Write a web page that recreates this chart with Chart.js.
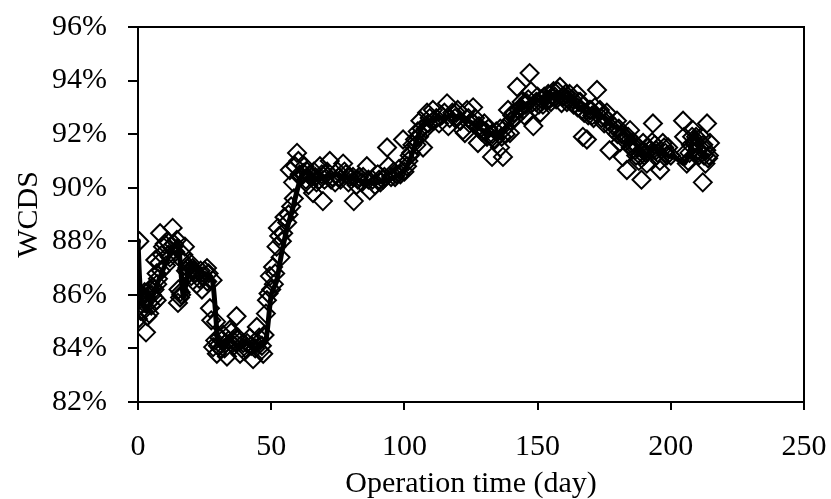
<!DOCTYPE html>
<html>
<head>
<meta charset="utf-8">
<script src="https://cdn.jsdelivr.net/npm/chart.js@4"></script>
<style>
  html, body { margin: 0; padding: 0; background: #fff; }
  #wrap { width: 831px; height: 499px; }
</style>
</head>
<body>
<div id="wrap"><canvas id="c" width="831" height="499"></canvas></div>
<script>
// Measured daily WCDS values (%) - outlying / clearly visible diamonds
const obsDays = [
  0,0,0.5,1,1.5,2,2.5,3,3.5,4,
  4.5,5,5.5,6,6.5,7,7,7.5,8,8.3,
  9,9.4,10,11,12,13,14,14.6,15,15.8,
  16,16.5,17,17.6,18,19,19.5,20,21,22,
  23,24,25,25.9,26,27,27.5,28,28.2,29,
  29.6,30,31,32,33,33.4,34,34.5,35,36,
  37,37.5,38.3,39,40,41,42,43.2,44,44.6,
  45,46,47,48,48.4,49,49.5,50.7,51,52,
  52.5,53,54,55,56,57,58.2,59,59.7,60.2,
  61,62,63,64,65,65.7,66,67,68.3,69.4,
  70,71,72,73,74,75,76,77,78,79,
  80.7,81,82,83,84,85.9,87,88,89,90,
  91,92,93.5,94,95,96,97,98,99.5,101,
  102,103,104,105,106,107,108,108.5,109,110.7,
  112,113,114,116,116.5,118,119,120,121,122,
  122.7,123.5,124,125.8,126,127.6,128,129,130,131,
  132.9,133,134,135.9,136,137,138,138.9,139.6,140,
  141,142.3,143,144,145,146,147,147.5,148.4,149,
  150,151,152,153.5,154,155,156,157,158.4,159,
  160,161,162,163,164.8,165,166,167,168.5,169,
  170,171,172.3,173.4,174,175,176,177,178,179.8,
  180,181,182,183,183.5,184.7,185,186,187,188,
  189,189.6,190,191,192,193.3,194,195,195.9,196,
  197,198,199,200,204.6,205,206,207,208.3,209,
  210,211,211.5,212,212.5,213,213.6,214,214.7
];
const obsWCDS = [
  86.0,85.1,88.0,85.4,85.9,85.4,86.1,84.6,85.2,85.7,
  86.2,85.6,86.3,85.9,87.3,86.8,85.8,86.6,87.2,88.3,
  87.5,87.8,87.9,88.0,87.4,88.5,87.6,88.05,85.7,85.9,
  86.1,87.3,87.5,87.8,86.9,86.8,87.2,86.7,86.9,86.4,
  86.6,86.2,86.9,87.0,86.5,85.5,85.05,86.55,84.05,84.3,
  83.8,84.1,84.0,84.5,84.2,83.7,84.3,84.7,84.6,84.1,
  85.2,84.4,83.8,84.0,83.9,84.2,84.4,83.6,84.0,84.8,
  84.2,83.9,83.8,85.3,85.8,86.05,86.7,87.04,86.4,87.8,
  88.5,88.2,88.0,88.9,88.7,90.66,90.2,90.8,91.3,91.0,
  90.4,90.55,90.3,90.1,90.4,89.8,90.6,90.2,90.8,89.5,
  90.3,90.6,91.0,90.4,90.2,90.6,90.3,90.9,90.5,90.2,
  90.4,89.5,90.1,90.4,90.2,90.8,89.9,90.3,90.1,90.5,
  90.2,90.3,91.5,90.8,90.4,90.6,90.5,90.7,91.8,90.8,
  91.2,91.6,91.8,92.1,92.5,91.5,92.2,92.8,92.4,92.9,
  92.6,92.4,92.7,93.15,92.3,92.8,92.6,92.9,92.5,92.15,
  92.04,92.9,92.6,93.0,92.4,91.67,92.3,92.1,92.4,91.9,
  91.15,92.0,91.8,91.5,92.2,91.15,92.0,92.9,92.04,92.5,
  92.8,93.76,92.9,93.2,92.7,93.16,94.28,93.6,92.3,93.0,
  93.4,92.8,93.1,93.27,93.5,93.2,93.6,93.3,93.76,93.16,
  93.4,93.2,93.5,93.3,93.5,93.0,93.2,91.9,91.8,92.7,
  92.9,92.6,93.65,92.9,92.6,92.4,92.8,91.4,92.2,92.5,
  92.0,91.7,91.15,91.9,90.66,92.15,91.5,91.7,91.2,91.0,
  90.3,91.67,91.2,90.9,91.4,92.4,91.6,91.3,91.0,90.66,
  91.67,91.3,91.5,91.2,92.5,91.9,90.9,91.3,92.15,91.7,
  91.4,91.5,91.9,90.2,91.2,90.9,92.4,91.1,91.67
];

// Measured WCDS values (%) - diamonds packed along the trend band
const bandDays = [
  0.3,1.2,2.2,3.2,4.2,5.2,6.2,7.2,8.6,10.5,
  11.5,12.5,13.5,15.2,16.2,18.5,20.5,21.5,23.5,24.5,
  26.5,29.3,30.5,31.5,32.5,35.5,36.5,39.5,40.5,42.5,
  45.5,46.5,47.5,50,51.5,53.5,54.5,56.5,57.5,58.5,
  60.7,62.5,63.5,64.5,66.5,68,69,70.5,72.5,75.5,
  77.5,79.5,82.5,84.5,86.5,90.5,92.5,96.5,98.5,100,
  101.5,102.5,104.5,105.5,106.5,109.5,111,115,117,119.5,
  124.5,126.5,128.5,130.5,131.5,133.5,134.5,136.5,137.5,140.5,
  141.5,143.5,144.5,145.5,146.5,149.5,150.5,151.5,152.5,154.5,
  155.5,156.5,157.5,159.5,160.5,161.5,163.5,165.5,166.5,167.5,
  169.5,170.5,171.5,174.5,175.5,176.5,178.5,180.5,181.5,182.5,
  184,185.5,186.5,187.5,188.5,190.5,191.5,193,194.5,197.5,
  198.5,205.5,206.5,207.5,208,209.5,210.5,212.2,213.3,214.3
];
const bandWCDS = [
  85.8,86.0,85.7,85.9,85.3,86.0,86.2,86.4,86.9,87.1,
  87.5,87.8,87.9,86.2,86.0,87.0,87.0,86.8,86.9,86.7,
  86.8,85.0,84.4,84.3,84.0,84.3,84.4,84.2,84.0,84.1,
  84.4,84.1,84.5,86.2,86.8,87.4,88.3,89.0,89.3,89.6,
  90.5,90.8,90.6,90.5,90.4,90.3,90.5,90.5,90.3,90.4,
  90.6,90.4,90.3,90.4,90.3,90.3,90.4,90.4,90.5,90.6,
  91.0,91.3,91.6,91.9,92.2,92.6,92.5,92.8,92.6,92.8,
  92.4,92.6,92.2,92.1,92.2,91.8,92.1,91.9,92.2,92.7,
  92.6,93.0,92.9,93.1,93.3,93.2,93.1,93.3,93.4,93.3,
  93.4,93.4,93.6,93.4,93.5,93.3,93.1,93.2,92.9,92.8,
  92.9,92.7,93.0,92.7,92.6,92.5,92.3,92.2,92.0,91.8,
  91.9,91.6,91.4,91.5,91.2,91.3,91.5,91.7,91.4,91.5,
  91.2,91.3,91.0,91.6,91.9,91.9,91.2,91.6,91.4,91.2
];

// Smoothed trend line
const trendDays = [0,1,3,5,8,11,13,15,17,18,20,22,25,28,30,32,35,38,41,44,46,48,50,52,54,56,58,60,62,64,67,70,74,78,82,86,90,94,98,101,103,105,107,110,114,118,121,124,127,130,133,135,137,140,142,145,148,151,154,157,160,163,166,169,172,175,178,181,184,187,190,193,196,199,202,205,207,209,211,213,214];
const trendWCDS = [88.0,86.0,85.4,85.8,86.6,87.3,87.7,88.0,85.9,86.4,87.2,86.9,86.8,86.5,84.3,84.1,84.3,84.0,84.2,84.0,84.2,84.3,86.0,86.5,87.6,88.5,89.2,90.0,90.6,90.6,90.3,90.4,90.5,90.4,90.3,90.2,90.2,90.3,90.5,90.8,91.3,91.9,92.3,92.5,92.6,92.7,92.6,92.5,92.3,92.1,92.0,91.9,92.1,92.5,92.9,93.1,93.2,93.3,93.4,93.5,93.4,93.3,93.0,92.8,92.9,92.6,92.3,92.2,91.9,91.6,91.1,91.5,91.3,91.2,91.1,90.9,91.3,92.1,91.4,91.1,91.3];

const xTicks = [0, 50, 100, 150, 200, 250];
const yTicks = [82, 84, 86, 88, 90, 92, 94, 96];

const FONT = "'Liberation Serif', 'Times New Roman', serif";

const boxPlugin = {
  id: 'box',
  afterDraw(chart) {
    const a = chart.chartArea, ctx = chart.ctx;
    ctx.save();
    ctx.strokeStyle = '#000';
    ctx.lineWidth = 2;
    ctx.strokeRect(a.left, a.top, a.right - a.left, a.bottom - a.top);
    ctx.restore();
  }
};

const allDays = obsDays.concat(bandDays);
const allWCDS = obsWCDS.concat(bandWCDS);

new Chart(document.getElementById('c'), {
  type: 'scatter',
  data: {
    datasets: [
      {
        label: 'trend',
        data: trendDays.map((d, i) => ({ x: d, y: trendWCDS[i] })),
        showLine: true,
        borderColor: '#000',
        backgroundColor: '#000',
        borderWidth: 5,
        tension: 0.2,
        pointRadius: (c) => c.dataIndex === 0 ? 3 : 0,
        pointBorderWidth: 0,
        order: 0
      },
      {
        label: 'WCDS',
        data: allDays.map((d, i) => ({ x: d, y: allWCDS[i] })),
        pointStyle: 'rectRot',
        pointRadius: 9,
        pointBorderWidth: 2,
        borderColor: '#000',
        backgroundColor: 'rgba(0,0,0,0)',
        order: 1
      }
    ]
  },
  options: {
    responsive: false,
    animation: false,
    devicePixelRatio: 1,
    layout: { padding: { left: 0, top: 27, right: 27, bottom: 0 } },
    plugins: { legend: { display: false }, tooltip: { enabled: false } },
    scales: {
      x: {
        type: 'linear',
        min: 0, max: 250,
        afterBuildTicks: (s) => { s.ticks = xTicks.map(v => ({ value: v })); },
        afterFit: (s) => { s.height = 97; s.paddingLeft = 0; s.paddingRight = 0; },
        grid: { display: true, drawOnChartArea: false, drawTicks: true, tickLength: 8, color: '#000', lineWidth: 2 },
        border: { display: true, color: '#000', width: 2 },
        ticks: { color: '#000', font: { family: FONT, size: 30 }, padding: 19, maxRotation: 0 },
        title: { display: true, text: 'Operation time (day)', color: '#000', font: { family: FONT, size: 30, lineHeight: 1.0 }, padding: { top: 0, bottom: 0 } }
      },
      y: {
        type: 'linear',
        min: 82, max: 96,
        afterBuildTicks: (s) => { s.ticks = yTicks.map(v => ({ value: v })); },
        afterFit: (s) => { s.width = 138; s.paddingTop = 0; s.paddingBottom = 0; },
        grid: { display: true, drawOnChartArea: false, drawTicks: true, tickLength: 10, color: '#000', lineWidth: 2 },
        border: { display: true, color: '#000', width: 2 },
        ticks: { color: '#000', font: { family: FONT, size: 30 }, padding: 21, callback: (v) => v + '%' },
        title: { display: true, text: 'WCDS', color: '#000', font: { family: FONT, size: 30, lineHeight: 1.0 }, padding: { top: 14, bottom: 0 } }
      }
    }
  },
  plugins: [boxPlugin]
});
</script>
</body>
</html>
